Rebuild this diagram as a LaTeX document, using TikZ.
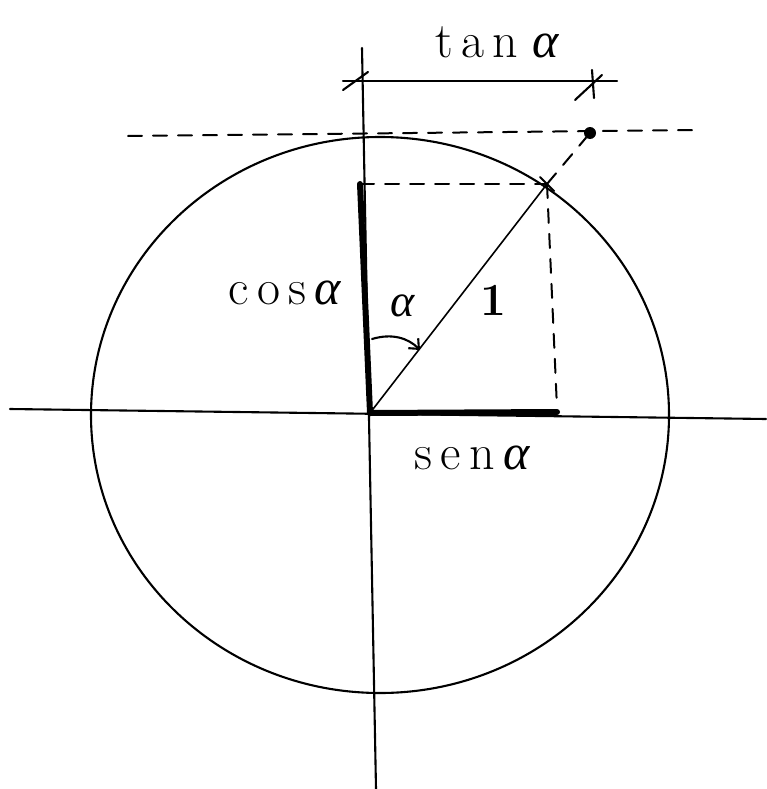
\documentclass[tikz,border=0pt]{standalone}
\usepackage{fontspec}
\newfontfamily\greekfont{Liberation Serif}
\newcommand{\alp}{{\greekfont\itshape α}}
\usetikzlibrary{arrows.meta,calc}
\begin{document}
\begin{tikzpicture}[x=1pt,y=-1pt,
  thinline/.style={line width=2.1pt, line cap=round},
  thickline/.style={line width=6pt, line cap=round},
  dashline/.style={line width=2pt, line cap=round, dash pattern=on 14pt off 11pt},
  lbl/.style={inner sep=0pt, font=\fontsize{50}{56}\selectfont},
  dot/.style={circle, fill=black, inner sep=0pt, minimum size=12pt}]
\useasboundingbox[fill=white] (0,0) rectangle (766,789);
% key points
\coordinate (O) at (370,413);
\coordinate (P) at (547,184);
\coordinate (C) at (360,184);
\coordinate (S) at (557,412);
\coordinate (Sd) at (557,408);
\coordinate (Xl) at (10,409);
\coordinate (Xr) at (766,419);
\coordinate (Yt) at (362,48);
\coordinate (Yb) at (376,789);
\coordinate (Tl) at (128,136);
\coordinate (Tr) at (697,130);
\node[dot] (T) at (590,133) {};
% axes
\draw[thinline] (Xl) -- (Xr);
\draw[thinline] (Yt) -- (Yb);
% circle
\draw[thinline] (380,415) ellipse [x radius=289pt, y radius=278pt];
% tangent dashed line and projections
\draw[dashline] (Tl) -- (Tr);
\draw[dashline] (P) -- (T);
\draw[dashline] (C) -- (P);
\draw[dashline] (P) -- (Sd);
% radius
\draw[thinline, line width=1.6pt] (O) -- (P);
\draw[thinline] ($(P)+(-7,-7)$) -- ($(P)+(7,7)$);
% thick segments
\draw[thickline] (C) -- (O);
\draw[thickline] (O) -- (S);
% angle arc
\coordinate (A1) at (372,339);
\coordinate (A2) at (420,350);
\draw[thinline, -{Straight Barb[length=8pt,width=14pt]}] (A1) .. controls (392,333) and (408,338) .. (A2);
% tan dimension
\coordinate (D1) at (343,81);
\coordinate (D2) at (617,81);
\draw[thinline] (D1) -- (D2);
\draw[thinline] (343,90) -- (368,72);
\draw[thinline] (592,70) -- (594,98);
\draw[thinline] (575,100) -- (602,75);
% labels
\node[lbl] (tanlbl) at (497,42) {t\,a\,n\;\alp};
\node[lbl] (coslbl) at (285,293) {c\,o\,s\,\alp};
\node[lbl] (senlbl) at (472,458) {s\,e\,n\,\alp};
\node[lbl, font=\fontsize{46}{50}\selectfont] (alphalbl) at (403,306) {\alp};
\node[lbl, font=\fontsize{46}{50}\selectfont\bfseries] (onelbl) at (493,300) {1};
\end{tikzpicture}
\end{document}
